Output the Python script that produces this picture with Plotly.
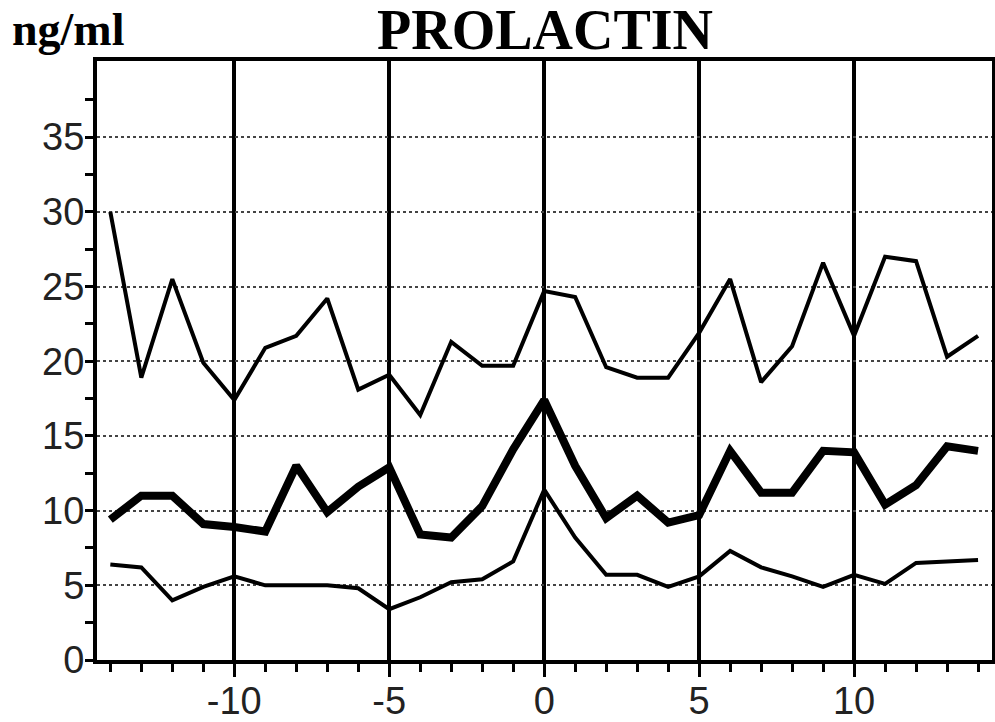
import plotly.graph_objects as go

days = list(range(-14, 15))
upper = [30.0, 18.9, 25.5, 19.9, 17.4, 20.9, 21.7, 24.2, 18.1, 19.1, 16.4, 21.3, 19.7, 19.7,
         24.7, 24.3, 19.6, 18.9, 18.9, 21.9, 25.5, 18.6, 21.0, 26.6, 21.7, 27.0, 26.7, 20.3, 21.7]
mean = [9.4, 11.0, 11.0, 9.1, 8.9, 8.6, 13.0, 9.9, 11.6, 12.9, 8.4, 8.2, 10.3, 14.1,
        17.4, 13.0, 9.5, 11.0, 9.2, 9.7, 14.0, 11.2, 11.2, 14.0, 13.9, 10.4, 11.7, 14.3, 14.0]
lower = [6.4, 6.2, 4.0, 4.9, 5.6, 5.0, 5.0, 5.0, 4.8, 3.4, 4.2, 5.2, 5.4, 6.6,
         11.4, 8.2, 5.7, 5.7, 4.9, 5.6, 7.3, 6.2, 5.6, 4.9, 5.7, 5.1, 6.5, 6.6, 6.7]

x_tickvals = [-10, -5, 0, 5, 10]
x_ticktext = ["-10", "-5", "0", "5", "10"]
y_tickvals = [0, 5, 10, 15, 20, 25, 30, 35]
y_ticktext = ["0", "5", "10", "15", "20", "25", "30", "35"]
y_minor_vals = [2.5, 7.5, 12.5, 17.5, 22.5, 27.5, 32.5, 37.5]

fig = go.Figure()
fig.add_trace(go.Scatter(x=days, y=upper, mode="lines", line=dict(color="black", width=4)))
fig.add_trace(go.Scatter(x=days, y=mean, mode="lines", line=dict(color="black", width=8)))
fig.add_trace(go.Scatter(x=days, y=lower, mode="lines", line=dict(color="black", width=4)))

tickfont = dict(family="Liberation Sans, Arial, sans-serif", size=38, color="#222")

fig.update_layout(
    width=995, height=722,
    margin=dict(l=97, r=3, t=61, b=62, autoexpand=False),
    paper_bgcolor="white", plot_bgcolor="white",
    showlegend=False,
    xaxis=dict(
        range=[-14.43, 14.45], automargin=False,
        tickmode="array", tickvals=x_tickvals, ticktext=x_ticktext,
        ticks="outside", ticklen=13, tickwidth=3, tickcolor="black",
        tickfont=tickfont, ticklabelstandoff=-9,
        showgrid=True, gridcolor="black", gridwidth=4,
        showline=True, linecolor="black", linewidth=4, mirror=True,
        zeroline=False,
        minor=dict(dtick=1, tick0=0, ticks="outside", ticklen=8, tickwidth=3,
                   tickcolor="black", showgrid=False),
    ),
    yaxis=dict(
        range=[0, 40.1], automargin=False,
        tickmode="array", tickvals=y_tickvals, ticktext=y_ticktext,
        ticks="outside", ticklen=8, tickwidth=3, tickcolor="black",
        tickfont=tickfont, ticklabelstandoff=-7,
        showgrid=True, gridcolor="#444", gridwidth=2, griddash="dot",
        showline=True, linecolor="black", linewidth=4, mirror=True,
        zeroline=False,
        minor=dict(tickmode="array", tickvals=y_minor_vals, ticks="outside", ticklen=8,
                   tickwidth=3, tickcolor="black", showgrid=False),
    ),
    annotations=[
        dict(text="<b>PROLACTIN</b>", x=0.5, xref="paper", y=1 + (61 - 30) / 599, yref="paper",
             xanchor="center", yanchor="middle", showarrow=False,
             font=dict(family="Liberation Serif, Times New Roman, serif", size=56, color="black")),
        dict(text="<b>ng/ml</b>", x=(10 - 97) / (995 - 97 - 3), xref="paper", y=1 + (61 - 30) / 599,
             yref="paper", xanchor="left", yanchor="middle", showarrow=False,
             font=dict(family="Liberation Serif, Times New Roman, serif", size=46, color="black")),
    ],
)

fig.write_html("out.html")
